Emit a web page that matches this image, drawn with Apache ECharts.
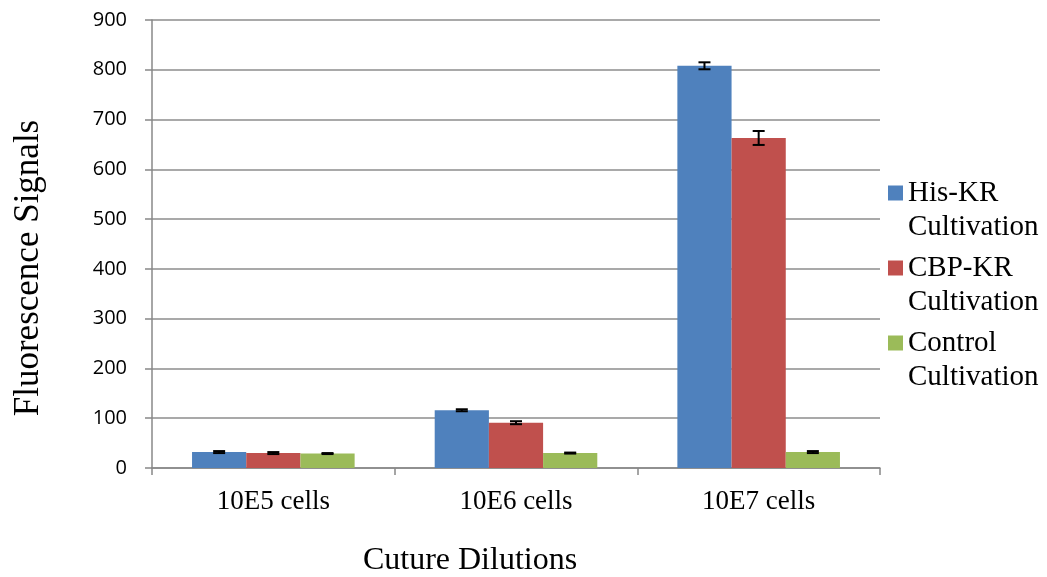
<!DOCTYPE html>
<html><head><meta charset="utf-8">
<script src="https://cdn.jsdelivr.net/npm/echarts@6/dist/echarts.min.js"></script>
<style>html,body{margin:0;padding:0;background:#fff}#c{width:1047px;height:577px}</style>
</head><body><div id="c"></div>
<script>
const categories = ['10E5 cells', '10E6 cells', '10E7 cells'];
const seriesNames = ['His-KR\nCultivation', 'CBP-KR\nCultivation', 'Control\nCultivation'];
const hisKR = [32, 116, 808];
const cbpKR = [30, 91, 663];
const control = [29, 30, 32];
const hisKRErr = [2, 2, 7];
const cbpKRErr = [2, 3, 14];
const controlErr = [1, 1, 2];
const yTicks = [0, 100, 200, 300, 400, 500, 600, 700, 800, 900];
const colors = ['#4F81BD', '#C0504D', '#9BBB59'];

const values = [hisKR, cbpKR, control];
const errs = [hisKRErr, cbpKRErr, controlErr];
const chart = echarts.init(document.getElementById('c'));
const barGapRatio = 0.33;

function errSeries(k) {
  const data = categories.map((c, i) => [i, values[k][i], errs[k][i]]);
  return {
    type: 'custom', name: seriesNames[k], z: 10, silent: true,
    data: data,
    renderItem: function (params, api) {
      const i = api.value(0), v = api.value(1), e = api.value(2);
      const band = api.size([1, 0])[0];
      const barW = band * (1 - barGapRatio) / 3;
      const center = api.coord([i, v]);
      const x = center[0] + (k - 1) * barW;
      const top = api.coord([i, v + e])[1];
      const bot = api.coord([i, v - e])[1];
      const cap = 6;
      const st = { stroke: '#000', lineWidth: 2 };
      return { type: 'group', children: [
        { type: 'line', shape: { x1: x, y1: top, x2: x, y2: bot }, style: st },
        { type: 'line', shape: { x1: x - cap, y1: top, x2: x + cap, y2: top }, style: st },
        { type: 'line', shape: { x1: x - cap, y1: bot, x2: x + cap, y2: bot }, style: st }
      ]};
    }
  };
}

const series = [];
for (let k = 0; k < 3; k++) {
  series.push({
    type: 'bar', name: seriesNames[k], data: values[k],
    barGap: '0%', barCategoryGap: '33%',
    itemStyle: { color: colors[k] }
  });
}
for (let k = 0; k < 3; k++) series.push(errSeries(k));

chart.setOption({
  animation: false,
  color: colors,
  grid: { left: 152, right: 167, top: 20, bottom: 109, containLabel: false, outerBoundsMode: 'none' },
  legend: {
    data: seriesNames,
    orient: 'vertical', left: 883, top: 137,
    itemWidth: 15, itemHeight: 15, itemGap: -27, icon: 'rect',
    formatter: name => '\n' + name,
    textStyle: { fontFamily: 'Liberation Serif', fontSize: 29, color: '#000', lineHeight: 34 }
  },
  xAxis: {
    type: 'category', data: categories,
    name: 'Cuture Dilutions', nameLocation: 'middle', nameGap: 77,
    nameTextStyle: { fontFamily: 'Liberation Serif', fontSize: 32, color: '#000', padding: [0, 92, 0, 0] },
    axisLine: { lineStyle: { color: '#888', width: 1.5 } },
    axisTick: { show: true, length: 7, lineStyle: { color: '#888', width: 1.5 } },
    axisLabel: { fontFamily: 'Liberation Serif', fontSize: 27, color: '#000', margin: 20 }
  },
  yAxis: {
    type: 'value', min: 0, max: 900, interval: 100,
    name: 'Fluorescence Signals', nameLocation: 'middle', nameGap: 106,
    nameTextStyle: { fontFamily: 'Liberation Serif', fontSize: 35, color: '#000', padding: [0, 48, 0, 0] },
    axisLine: { show: true, lineStyle: { color: '#888', width: 1.5 } },
    axisTick: { show: true, length: 7, lineStyle: { color: '#888', width: 1.5 } },
    splitLine: { lineStyle: { color: '#8c8c8c', width: 1.5 } },
    axisLabel: { fontFamily: 'Open Sans', fontSize: 20, color: '#000', margin: 25,
      formatter: v => yTicks.includes(v) ? String(v) : '' }
  },
  series: series
});
</script></body></html>
